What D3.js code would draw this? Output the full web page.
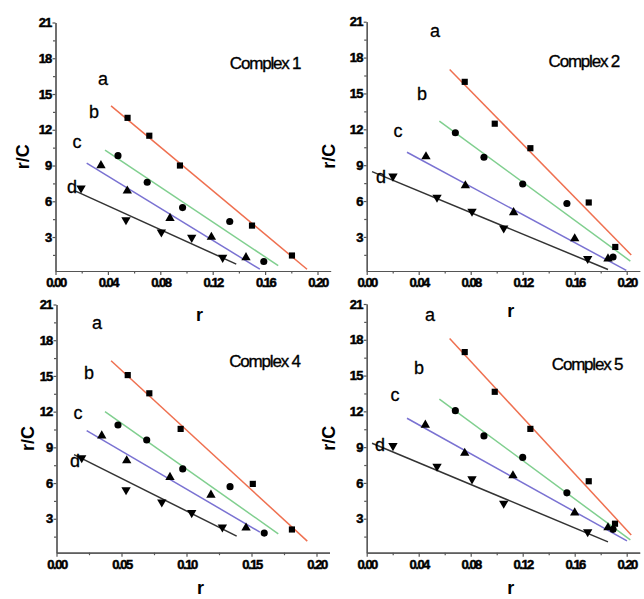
<!DOCTYPE html>
<html>
<head>
<meta charset="utf-8">
<script src="https://cdn.jsdelivr.net/npm/d3@7"></script>
<style>
  body { margin: 0; background: #fff; }
  svg { display: block; }
  text { font-family: 'Liberation Sans', Arial, sans-serif; fill: #000; }
</style>
</head>
<body>
<svg id="chart" width="644" height="599"></svg>
<script>
// values (r, r/C)
const seriesNames = ['a', 'b', 'c', 'd']
const yTicks = [3, 6, 9, 12, 15, 18, 21]
const yMinor = [1.5, 4.5, 7.5, 10.5, 13.5, 16.5, 19.5]
const xTicks4 = [0, 0.04, 0.08, 0.12, 0.16, 0.20]
const xMinor4 = [0.02, 0.06, 0.10, 0.14, 0.18]
const xTicks5 = [0, 0.05, 0.10, 0.15, 0.20]
const xMinor5 = [0.025, 0.075, 0.125, 0.175]

// Complex 1
const c1A = [[0.055, 13.0], [0.0716, 11.5], [0.095, 9.0], [0.150, 3.96], [0.1805, 1.45]]
const c1B = [[0.0477, 9.83], [0.070, 7.6], [0.097, 5.47], [0.133, 4.3], [0.159, 0.95]]
const c1C = [[0.0347, 9.0], [0.0548, 6.87], [0.0874, 4.58], [0.119, 2.99], [0.1454, 1.28]]
const c1D = [[0.0195, 7.1], [0.0538, 4.44], [0.0808, 3.41], [0.104, 2.96], [0.1276, 1.28]]
const c1Fit = [[[0.0424, 14.0], [0.192, 0.3]], [[0.0378, 10.3], [0.170, 0.6]],
  [[0.0238, 9.2], [0.156, 0.3]], [[0.0149, 6.87], [0.138, 0.73]]]

// Complex 2
const c2A = [[0.0754, 15.97], [0.0985, 12.47], [0.1259, 10.42], [0.1708, 5.88], [0.1912, 2.16]]
const c2B = [[0.0682, 11.71], [0.0902, 9.66], [0.120, 7.43], [0.154, 5.8], [0.1895, 1.32]]
const c2C = [[0.0456, 9.72], [0.0759, 7.29], [0.113, 5.04], [0.160, 2.86], [0.1856, 1.18]]
const c2D = [[0.0202, 8.07], [0.0541, 6.3], [0.081, 5.13], [0.1054, 3.73], [0.170, 1.18]]
const c2Fit = [[[0.0638, 17.0], [0.2035, 1.49]], [[0.0559, 12.69], [0.2028, 0.98]],
  [[0.031, 10.08], [0.1997, 0.2]], [[0.0041, 8.46], [0.1856, 0.28]]]

// Complex 4
const c4A = [[0.0548, 15.07], [0.0714, 13.54], [0.0955, 10.55], [0.151, 5.93], [0.1811, 2.1]]
const c4B = [[0.0473, 10.88], [0.0694, 9.62], [0.0971, 7.19], [0.1335, 5.7], [0.1598, 1.8]]
const c4C = [[0.0348, 9.98], [0.054, 7.89], [0.0873, 6.49], [0.1188, 5.0], [0.1458, 2.24]]
const c4D = [[0.0194, 8.11], [0.0535, 5.43], [0.081, 4.4], [0.104, 3.5], [0.1276, 2.3]]
const c4Fit = [[[0.042, 16.28], [0.1929, 1.12]], [[0.0373, 12.0], [0.1706, 1.74]],
  [[0.0232, 10.4], [0.1565, 1.88]], [[0.0135, 8.39], [0.1386, 1.54]]]

// Complex 5
const c5A = [[0.0754, 16.97], [0.0985, 13.64], [0.1259, 10.53], [0.1708, 6.14], [0.191, 2.58]]
const c5B = [[0.0682, 12.06], [0.0902, 9.94], [0.120, 8.14], [0.154, 5.17], [0.1895, 2.11]]
const c5C = [[0.0451, 10.86], [0.0754, 8.5], [0.1125, 6.61], [0.160, 3.5], [0.1856, 2.25]]
const c5D = [[0.0202, 9.11], [0.0541, 7.39], [0.081, 6.33], [0.1054, 4.28], [0.170, 1.89]]
const c5Fit = [[[0.0638, 18.1], [0.2035, 1.64]], [[0.0559, 13.03], [0.2028, 1.22]],
  [[0.031, 11.42], [0.2002, 1.14]], [[0.0041, 9.33], [0.1856, 1.06]]]

const colors = ['#ef7050', '#80cf8f', '#7a72d2', '#333333']
const symbols = [d3.symbolSquare, d3.symbolCircle, d3.symbolTriangle, d3.symbolTriangle]

// panel layout (pixels), letter positions in data units
const panels = [
  {title: 'Complex 1', series: [c1A, c1B, c1C, c1D], fits: c1Fit, xt: xTicks4, xm: xMinor4,
    x0: 55.5, x1: 330.6, yb: 271, yt: 22.5, ytDx: -27, rDy: 50,
    letters: [[0.0363, 16.2], [0.0294, 13.43], [0.0164, 10.9], [0.0126, 7.13]], tpos: [0.16, 17.6]},
  {title: 'Complex 2', series: [c2A, c2B, c2C, c2D], fits: c2Fit, xt: xTicks4, xm: xMinor4,
    x0: 366.7, x1: 639.7, yb: 271, yt: 21.7, ytDx: -32, rDy: 46,
    letters: [[0.0525, 20.15], [0.0425, 14.94], [0.0241, 11.83], [0.011, 7.96]], tpos: [0.167, 17.71]},
  {title: 'Complex 4', series: [c4A, c4B, c4C, c4D], fits: c4Fit, xt: xTicks5, xm: xMinor5,
    x0: 56.5, x1: 329.5, yb: 552.7, yt: 304.5, ytDx: -23, rDy: 41,
    letters: [[0.0312, 19.37], [0.025, 15.17], [0.0165, 11.81], [0.0142, 7.77]], tpos: [0.16, 16.26]},
  {title: 'Complex 5', series: [c5A, c5B, c5C, c5D], fits: c5Fit, xt: xTicks4, xm: xMinor4,
    x0: 366.7, x1: 639.7, yb: 552.7, yt: 304, ytDx: -32, rDy: 41,
    letters: [[0.0487, 20.05], [0.0402, 15.6], [0.0218, 13.33], [0.0102, 9.13]], tpos: [0.1695, 16.0]}
]

const svg = d3.select('#chart')
const fmtX = d3.format('.2f')

function styleTicks (sel, spacing) {
  sel.attr('font-family', null).attr('font-size', null)
  sel.selectAll('text')
    .attr('font-size', 13)
    .attr('font-weight', 'bold')
    .attr('letter-spacing', spacing)
    .attr('fill', '#000')
    .attr('stroke', '#000').attr('stroke-width', 0.5)
}

panels.forEach(p => {
  const x = d3.scaleLinear().domain([0, 0.21]).range([p.x0, p.x1])
  const y = d3.scaleLinear().domain([0.15, 21]).range([p.yb, p.yt])
  const g = svg.append('g')

  // minor ticks
  g.append('g').attr('transform', 'translate(0,' + p.yb + ')')
    .call(d3.axisBottom(x).tickValues(p.xm).tickSize(2.5).tickFormat('').tickSizeOuter(0))
  g.append('g').attr('transform', 'translate(' + x(0) + ',0)')
    .call(d3.axisLeft(y).tickValues(yMinor).tickSize(2.5).tickFormat('').tickSizeOuter(0))

  let xa = g.append('g').attr('transform', 'translate(0,' + p.yb + ')')
    .call(d3.axisBottom(x).tickValues(p.xt).tickSize(4).tickPadding(3).tickFormat(fmtX).tickSizeOuter(0))
  styleTicks(xa, -1.5)
  let ya = g.append('g').attr('transform', 'translate(' + x(0) + ',0)')
    .call(d3.axisLeft(y).tickValues(yTicks).tickSize(3).tickPadding(1).tickSizeOuter(0))
  styleTicks(ya, -0.8)
  g.selectAll('.domain, .tick line').attr('stroke', '#555').attr('stroke-width', 1.2)

  // axis titles
  g.append('text')
    .attr('transform', 'translate(' + (x(0) + p.ytDx) + ',' + ((p.yb + p.yt) / 2 + 10) + ') rotate(-90)')
    .attr('text-anchor', 'middle')
    .attr('font-size', 18).attr('font-weight', 'bold')
    .text('r/C')
  g.append('text')
    .attr('x', x(0) + 144).attr('y', p.yb + p.rDy)
    .attr('text-anchor', 'middle')
    .attr('font-size', 18).attr('font-weight', 'bold')
    .text('r')

  // fitted lines
  p.fits.forEach((f, i) => {
    g.append('path')
      .attr('d', d3.line().x(d => x(d[0])).y(d => y(d[1]))(f))
      .attr('fill', 'none').attr('stroke', colors[i]).attr('stroke-width', 1.5)
  })

  // points
  p.series.forEach((s, i) => {
    g.selectAll(null).data(s).enter().append('path')
      .attr('d', d3.symbol().type(symbols[i]).size(i === 1 ? 40 : 38))
      .attr('transform', d => 'translate(' + x(d[0]) + ',' + y(d[1]) + ')' + (i === 3 ? ' rotate(180)' : ''))
      .attr('fill', '#000')
  })

  // series letters
  g.selectAll(null).data(p.letters).enter().append('text')
    .attr('x', d => x(d[0])).attr('y', d => y(d[1]))
    .attr('text-anchor', 'middle').attr('dy', '0.3em')
    .attr('font-size', 18)
    .attr('stroke', '#000').attr('stroke-width', 0.3)
    .text((d, i) => seriesNames[i])

  g.append('text')
    .attr('x', x(p.tpos[0])).attr('y', y(p.tpos[1]))
    .attr('text-anchor', 'middle').attr('dy', '0.35em')
    .attr('font-size', 17).attr('letter-spacing', -1.2)
    .attr('stroke', '#000').attr('stroke-width', 0.35)
    .text(p.title)
})
</script>
</body>
</html>
